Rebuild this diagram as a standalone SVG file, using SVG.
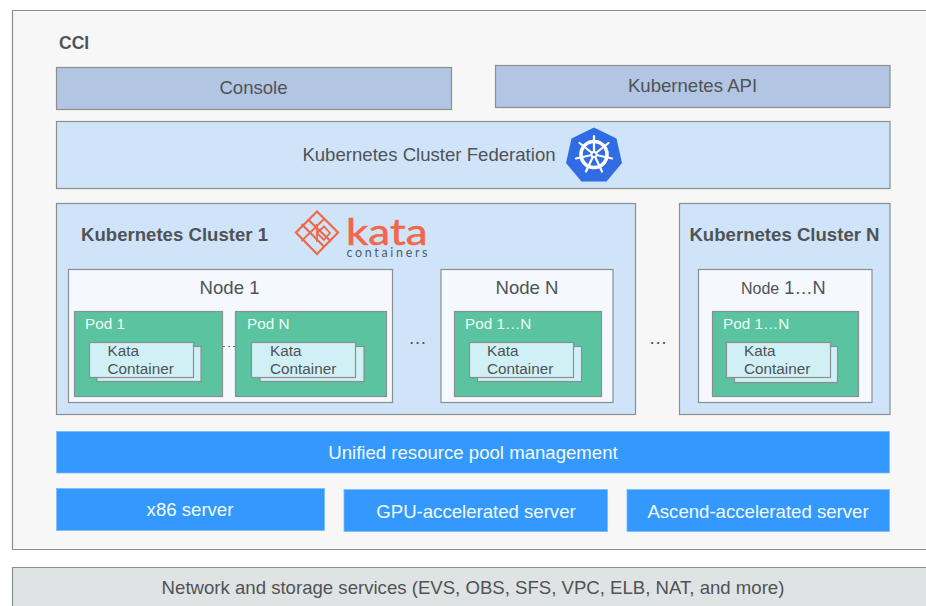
<svg xmlns="http://www.w3.org/2000/svg" width="926" height="606" viewBox="0 0 926 606">
<style>
text{font-family:"Liberation Sans",Arial,sans-serif;fill:#4f5355;font-size:18.600px}
.c{text-anchor:middle}
.b{font-weight:700}
.w{fill:#f4fbf8;font-size:18.600px}
.box{stroke:#8a8f92;stroke-width:1.200}
.head{fill:#b2c5e3}
.cl{fill:#cfe4f9}
.node{fill:#f5f8ff}
.pod{fill:#5ac39f}
.kc{fill:#d0f0f5}
.blue{fill:#3399ff;stroke:#7cbcf5;stroke-width:.8}
.pl{fill:#f0fbf6;font-size:15.300px}
.kt{font-size:15.300px}
</style>
<rect width="926" height="606" fill="#fff"/>
<g id="cci"><path d="M927 10.500H12.500V549.500H927" fill="#f7f7f7" stroke="#8a8f92" stroke-width="1.200"/><text x="59" y="49" class="b" style="font-size:17.500px">CCI</text></g>
<g id="console"><rect class="box head" x="56.500" y="67.500" width="395" height="42"/><text class="c" x="253.500" y="94">Console</text></g>
<g id="k8s-api"><rect class="box head" x="495.500" y="65.500" width="394.500" height="42"/><text class="c" x="692.500" y="92">Kubernetes API</text></g>
<g id="federation"><rect class="box cl" x="56.500" y="121.500" width="833.500" height="67"/><text class="c" x="429" y="160.500">Kubernetes Cluster Federation</text>
<path d="M594 127.500L616.500 138.500L622 163L606.500 181.500H581.500L566 163L571.500 138.500Z" fill="#326ce5"/>
<g fill="none" stroke="#fff"><circle cx="594" cy="154.500" r="13" stroke-width="3.600"/><path stroke-width="2.200" stroke-linecap="round" d="M594 136V154.500M594 154.500L608.500 143M594 154.500L612 158.500M594 154.500L602 171.500M594 154.500L586 171.500M594 154.500L576 158.500M594 154.500L579.500 143"/></g>
<circle cx="594" cy="154.500" r="3.500" fill="#fff"/><circle cx="594" cy="154.500" r="1.500" fill="#326ce5"/></g>
<g id="cluster-1"><rect class="box cl" x="56.500" y="203.500" width="579" height="211"/><text x="81" y="241" class="b">Kubernetes Cluster 1</text>
<g fill="none" stroke="#f2664a" stroke-width="2.200"><path d="M317 211.500L338 232.500L317 254L296 232.500Z"/><path d="M301.500 224L324 246.500M308 219.500L331 241.500"/><path d="M301.500 241L324 219M317 224V242M317 233L324 226.500L330 233L324 240Z" stroke-width="1.800"/></g>
<text x="346" y="245" style="font-size:36px;fill:#f2664a;stroke:#f2664a;stroke-width:.5;font-family:Lato,sans-serif" textLength="81.500" lengthAdjust="spacingAndGlyphs">kata</text>
<text x="346.500" y="256.500" style="font-size:12.500px;fill:#4f5d70;font-family:Lato,sans-serif" textLength="81">containers</text></g>
<g id="node-1"><rect class="box node" x="68.500" y="269.500" width="324" height="133"/><text class="c" x="229.500" y="294">Node 1</text></g>
<g id="pod-1"><rect class="box pod" x="74.500" y="311.500" width="148" height="85"/><text class="pl" x="85" y="329">Pod 1</text><rect class="box kc" x="97" y="346.500" width="104" height="35"/><rect class="box kc" x="89.500" y="342.500" width="104" height="35"/><text class="kt" x="107.500" y="356">Kata</text><text class="kt" x="107.500" y="374">Container</text></g>
<g id="pod-n"><rect class="box pod" x="235.500" y="311.500" width="151" height="85"/><text class="pl" x="247" y="329">Pod N</text><rect class="box kc" x="260" y="346.500" width="104" height="35"/><rect class="box kc" x="251.500" y="342.500" width="104" height="35"/><text class="kt" x="270" y="356">Kata</text><text class="kt" x="270" y="374">Container</text></g>
<g id="connectors"><path d="M223 346.500H235" stroke="#6a6f72" stroke-width="1" stroke-dasharray="2 3" fill="none"/></g>
<text class="c" x="417.500" y="344">…</text>
<g id="node-n"><rect class="box node" x="441" y="269.500" width="172" height="133"/><text class="c" x="527" y="294">Node N</text></g>
<g id="pod-1n"><rect class="box pod" x="454.500" y="311.500" width="147" height="85"/><text class="pl" x="465" y="329">Pod 1…N</text><rect class="box kc" x="477.500" y="346.500" width="104" height="35"/><rect class="box kc" x="469.500" y="342.500" width="104" height="35"/><text class="kt" x="487" y="356">Kata</text><text class="kt" x="487" y="374">Container</text></g>
<text class="c" x="658" y="344">…</text>
<g id="cluster-n"><rect class="box cl" x="679.500" y="203.500" width="210.500" height="211"/><text class="c b" x="784.500" y="241">Kubernetes Cluster N</text></g>
<g id="node-1n"><rect class="box node" x="698.500" y="269.500" width="173.500" height="133"/><text x="741" y="294" style="font-size:18.200px"><tspan style="font-size:16px">Node</tspan> 1…N</text></g>
<g id="pod-1n-b"><rect class="box pod" x="712.500" y="311.500" width="146" height="85"/><text class="pl" x="723" y="329">Pod 1…N</text><rect class="box kc" x="734.500" y="346.500" width="103" height="36"/><rect class="box kc" x="726.500" y="342.500" width="104" height="35"/><text class="kt" x="744" y="356">Kata</text><text class="kt" x="744" y="374">Container</text></g>
<g id="resource-pool"><rect class="blue" x="56.500" y="431.500" width="833" height="41.500"/><text class="c w" x="473" y="459">Unified resource pool management</text></g>
<g id="x86"><rect class="blue" x="56.500" y="488.500" width="268" height="42"/><text class="c w" x="190" y="515.500">x86 server</text></g>
<g id="gpu"><rect class="blue" x="344" y="489.500" width="263.500" height="42"/><text class="c w" x="476" y="517.500">GPU-accelerated server</text></g>
<g id="ascend"><rect class="blue" x="627" y="489.500" width="262.500" height="42"/><text class="c w" x="758" y="517.500">Ascend-accelerated server</text></g>
<g id="network"><path d="M927 567.500H12.500V607H927Z" fill="#e0e3e3" stroke="#8a8f92" stroke-width="1.200"/><text class="c" x="473" y="593.500">Network and storage services (EVS, OBS, SFS, VPC, ELB, NAT, and more)</text></g>
</svg>
